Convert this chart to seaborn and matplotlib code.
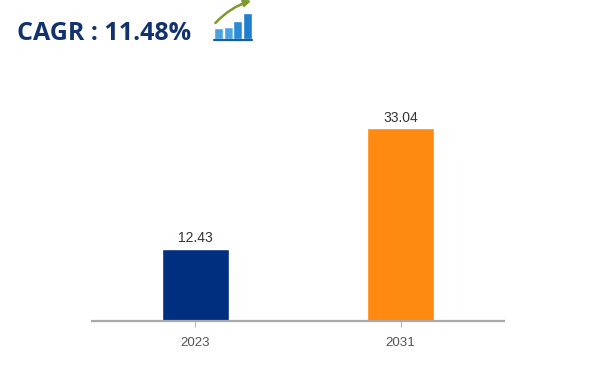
import matplotlib
matplotlib.use("Agg")
import matplotlib.pyplot as plt
import seaborn as sns
import pandas as pd

years = ["2023", "2031"]
values = [12.43, 33.04]
bar_colors = ["#012f7f", "#ff8a12"]
title_text = "CAGR : 11.48%"
icon_levels = [11, 12, 18, 26]
icon_colors = ["#4aa3df", "#4aa3df", "#2a8bd6", "#1f7fcf"]

sns.set_theme(style="white")
plt.rcParams["font.family"] = ["Liberation Sans", "DejaVu Sans"]

W, H = 600, 370
fig = plt.figure(figsize=(W / 100, H / 100), dpi=100, facecolor="white")


def box(x0, y0, x1, y1):
    return [x0 / W, 1 - y1 / H, (x1 - x0) / W, (y1 - y0) / H]


ax = fig.add_axes(box(92.5, 60, 503.5, 321))
df = pd.DataFrame({"year": years, "value": values})
sns.barplot(data=df, x="year", y="value", hue="year", palette=bar_colors,
            legend=False, width=0.325, saturation=1, ax=ax)
ax.set_xlim(-0.5, 1.5)
ax.set_ylim(0, 44.75)
ax.set_xlabel("")
ax.set_ylabel("")
ax.set_yticks([])
for s in ("top", "left", "right"):
    ax.spines[s].set_visible(False)
ax.spines["bottom"].set_color("#a9a9a9")
ax.spines["bottom"].set_linewidth(1.6)
ax.tick_params(axis="x", length=4, width=0.8, color="#b5b5b5", colors="#555555",
               labelsize=9.6, pad=7.5, bottom=True)
for c in ax.containers:
    ax.bar_label(c, fmt="%.2f", padding=2.5, fontsize=10, color="#333333")

fig.text(17 / W, 1 - 40 / H, title_text, fontsize=18, fontweight="bold",
         color="#12326e", family=["Open Sans", "DejaVu Sans"], va="baseline", ha="left")

icon = fig.add_axes(box(214, 2, 252, 39))
icon.axis("off")
sns.barplot(x=list(range(len(icon_levels))), y=icon_levels, hue=list(range(len(icon_levels))),
            palette=icon_colors, legend=False, width=0.92, saturation=1, ax=icon)
icon.set_xlim(-0.5, 3.5)
icon.set_ylim(0, 37)
icon.set_xlabel("")
icon.set_ylabel("")
icon.annotate("", xy=(3.7, 39), xytext=(-0.55, 14), annotation_clip=False,
              arrowprops=dict(arrowstyle="-|>", color="#7e9a2e", lw=1.8,
                              connectionstyle="arc3,rad=-0.15", mutation_scale=10))
icon.axhline(-0.5, color="#175f9e", lw=1.6, clip_on=False)

fig.savefig("out.png", dpi=100)
